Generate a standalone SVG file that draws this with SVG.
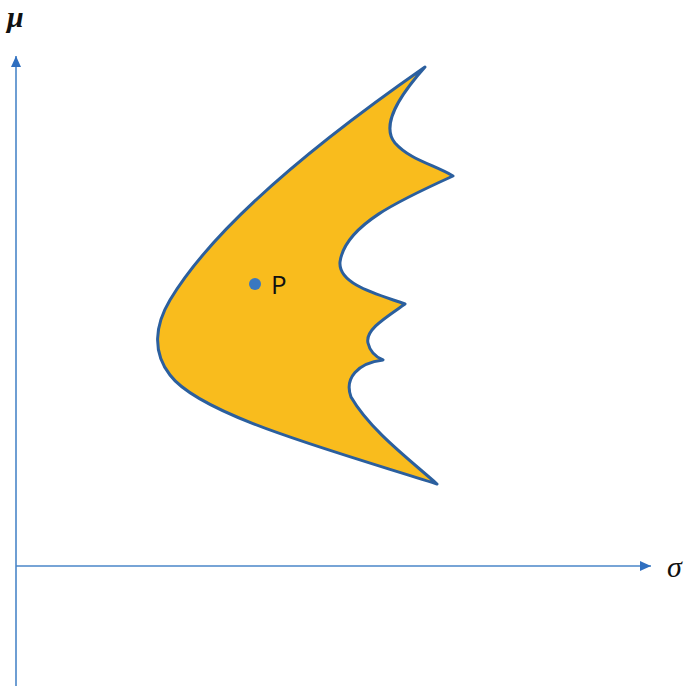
<svg xmlns="http://www.w3.org/2000/svg" width="690" height="687" viewBox="0 0 690 687">
<style>
.axis{stroke:#4a86c8;stroke-width:1.6;fill:none}
.lbl{font-family:"Liberation Serif","DejaVu Serif",serif;font-style:italic;font-size:30px;fill:#111}
</style>
<defs>
<marker id="arr" markerWidth="12" markerHeight="12" refX="11" refY="5" orient="auto" markerUnits="userSpaceOnUse">
<path d="M0,0 L11,5 L0,10 Z" fill="#2f6fc0"/>
</marker>
</defs>
<rect width="690" height="687" fill="#fff"/>
<g id="connectors">
<line class="axis" x1="16" y1="686" x2="16" y2="56" marker-end="url(#arr)"/>
<line class="axis" x1="16" y1="566" x2="651" y2="566" marker-end="url(#arr)"/>
</g>
<g id="region">
<path d="M425,67 C400,95 380,125 395,143 C410,160 435,165 453,176 C400,200 345,225 340,262 C338,285 380,295 405,304 C385,318 365,330 368,343 C370,352 376,357 383,360 C358,363 344,378 351,397 C370,430 410,460 437,484 C330,450 200,415 170,375 C152,352 155,325 170,300 C215,225 320,140 425,67 Z" fill="#f9bc1d" stroke="#2b5f9e" stroke-width="3" stroke-linejoin="round"/>
</g>
<g id="point-P">
<circle cx="255" cy="284" r="6" fill="#3a78c0"/>
<text x="271" y="294" font-family="'Open Sans','Liberation Sans',sans-serif" font-size="26" fill="#111">P</text>
</g>
<g id="label-mu"><text class="lbl" x="7" y="27" font-weight="bold">μ</text></g>
<g id="label-sigma"><text class="lbl" x="667" y="577">σ</text></g>
</svg>
